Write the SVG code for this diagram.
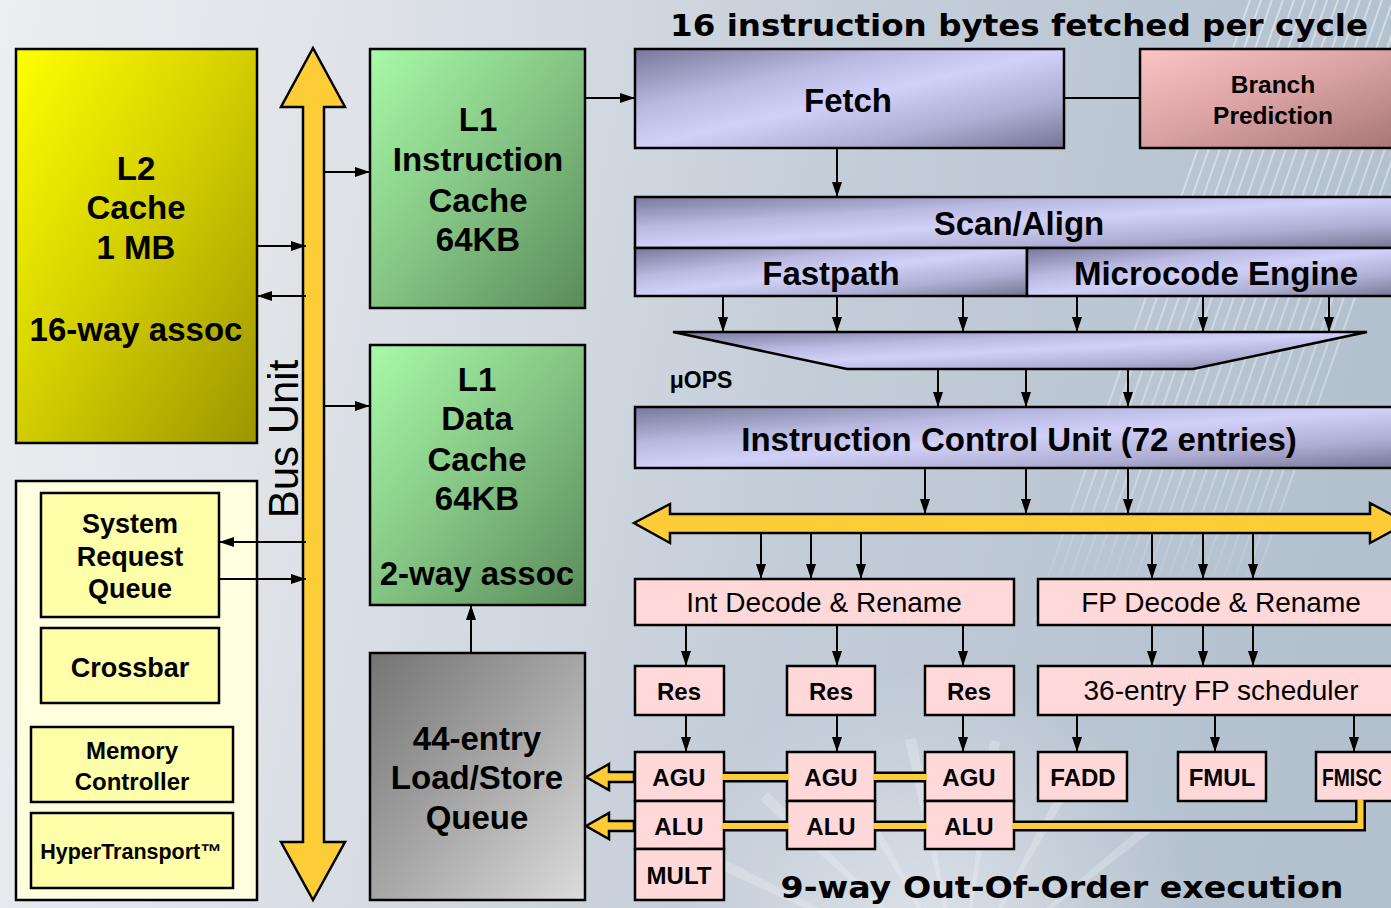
<svg xmlns="http://www.w3.org/2000/svg" width="1391" height="908" viewBox="0 0 1391 908">
  <defs>
    <linearGradient id="bg" x1="0" y1="0" x2="1391" y2="260" gradientUnits="userSpaceOnUse">
      <stop offset="0" stop-color="#eceef1"/>
      <stop offset="0.25" stop-color="#dfe3e8"/>
      <stop offset="0.6" stop-color="#c4ced9"/>
      <stop offset="1" stop-color="#b3c0ce"/>
    </linearGradient>
    <radialGradient id="glow" cx="930" cy="930" r="260" gradientUnits="userSpaceOnUse">
      <stop offset="0" stop-color="#ffffff" stop-opacity="0.45"/>
      <stop offset="1" stop-color="#ffffff" stop-opacity="0"/>
    </radialGradient>
    <linearGradient id="stripeFade" x1="0" y1="0" x2="0" y2="600" gradientUnits="userSpaceOnUse">
      <stop offset="0" stop-color="#ffffff" stop-opacity="0.45"/>
      <stop offset="0.8" stop-color="#ffffff" stop-opacity="0.3"/>
      <stop offset="1" stop-color="#ffffff" stop-opacity="0"/>
    </linearGradient>
    <linearGradient id="gYellow" x1="0" y1="0" x2="1" y2="1">
      <stop offset="0" stop-color="#ffff00"/>
      <stop offset="0.5" stop-color="#d2cd00"/>
      <stop offset="1" stop-color="#9c9600"/>
    </linearGradient>
    <linearGradient id="gGreen" x1="0" y1="0" x2="1" y2="1">
      <stop offset="0" stop-color="#a8faa8"/>
      <stop offset="0.5" stop-color="#84c484"/>
      <stop offset="1" stop-color="#5a8b5a"/>
    </linearGradient>
    <linearGradient id="gGray" x1="0" y1="0" x2="1" y2="1">
      <stop offset="0" stop-color="#747474"/>
      <stop offset="0.5" stop-color="#a6a6a6"/>
      <stop offset="1" stop-color="#dcdcdc"/>
    </linearGradient>
    <linearGradient id="gPink" x1="0" y1="0" x2="1" y2="1">
      <stop offset="0" stop-color="#fcc4c4"/>
      <stop offset="0.5" stop-color="#d8a0a0"/>
      <stop offset="1" stop-color="#a47474"/>
    </linearGradient>
    <linearGradient id="gLav" x1="0" y1="0" x2="1" y2="1">
      <stop offset="0" stop-color="#78789a"/>
      <stop offset="0.3" stop-color="#b8b8e0"/>
      <stop offset="0.5" stop-color="#d0d0f8"/>
      <stop offset="0.75" stop-color="#aeaed4"/>
      <stop offset="1" stop-color="#747494"/>
    </linearGradient>
    <marker id="ah" markerUnits="userSpaceOnUse" markerWidth="15" markerHeight="10" refX="15" refY="5" orient="auto">
      <path d="M0,0 L15,5 L0,10 z" fill="#000"/>
    </marker>
    <style>
      .box { stroke: #000; stroke-width: 2.5; }
      .pink { fill: #ffd9d9; stroke: #000; stroke-width: 2.5; }
      .ylw { fill: #ffffaa; stroke: #000; stroke-width: 2.5; }
      .lav { fill: url(#gLav); stroke: #000; stroke-width: 2.5; }
      .bus { fill: #fdcd38; stroke: #000; stroke-width: 2.5; stroke-linejoin: miter; }
      .wire { fill: none; stroke: #000; stroke-width: 2; }
      .arr { fill: none; stroke: #000; stroke-width: 2; marker-end: url(#ah); }
      .linkO { fill: none; stroke: #000; stroke-width: 11; }
      .linkI { fill: none; stroke: #fdcd38; stroke-width: 6; }
      text { font-family: "Liberation Sans", Arial, sans-serif; font-weight: bold; fill: #000; text-anchor: middle; }
      .big { font-size: 33px; }
      .mid { font-size: 27px; }
      .sm { font-size: 24px; }
      .reg { font-weight: normal; font-size: 28px; }
      .title { font-family: "DejaVu Sans", Verdana, sans-serif; font-size: 30px; }
    </style>
  </defs>

  <!-- backdrop -->
  <rect x="0" y="0" width="1391" height="908" fill="url(#bg)"/>
  <rect x="600" y="660" width="700" height="248" fill="url(#glow)"/>
  <g id="rays" fill="#ffffff" opacity="0.22">
    <path d="M960,980 L700,860 L706,850 Z"/>
    <path d="M960,980 L760,800 L768,792 Z"/>
    <path d="M960,980 L830,760 L840,755 Z"/>
    <path d="M960,980 L905,740 L916,738 Z"/>
    <path d="M960,980 L990,740 L1000,742 Z"/>
    <path d="M960,980 L1070,770 L1079,775 Z"/>
    <path d="M960,980 L1150,820 L1156,828 Z"/>
  </g>
  <g id="stripes" stroke="url(#stripeFade)" stroke-width="2">
    <line x1="1250" y1="0" x2="1040" y2="600"/>
    <line x1="1261" y1="0" x2="1051" y2="600"/>
    <line x1="1272" y1="0" x2="1062" y2="600"/>
    <line x1="1283" y1="0" x2="1073" y2="600"/>
    <line x1="1294" y1="0" x2="1084" y2="600"/>
    <line x1="1305" y1="0" x2="1095" y2="600"/>
    <line x1="1316" y1="0" x2="1106" y2="600"/>
    <line x1="1327" y1="0" x2="1117" y2="600"/>
    <line x1="1338" y1="0" x2="1128" y2="600"/>
    <line x1="1349" y1="0" x2="1139" y2="600"/>
    <line x1="1360" y1="0" x2="1150" y2="600"/>
    <line x1="1371" y1="0" x2="1161" y2="600"/>
    <line x1="1382" y1="0" x2="1172" y2="600"/>
    <line x1="1393" y1="0" x2="1183" y2="600"/>
    <line x1="1404" y1="0" x2="1194" y2="600"/>
    <line x1="1415" y1="0" x2="1205" y2="600"/>
    <line x1="1426" y1="0" x2="1216" y2="600"/>
    <line x1="1437" y1="0" x2="1227" y2="600"/>
    <line x1="1448" y1="0" x2="1238" y2="600"/>
    <line x1="1459" y1="0" x2="1249" y2="600"/>
  </g>

  <!-- captions -->
  <text class="title" x="1019" y="36" textLength="698" lengthAdjust="spacingAndGlyphs">16 instruction bytes fetched per cycle</text>
  <text class="title" x="1062" y="898" style="font-size:31px" textLength="563" lengthAdjust="spacingAndGlyphs">9-way Out-Of-Order execution</text>

  <!-- memory side -->
  <g id="l2cache">
    <rect class="box" x="16" y="49" width="241" height="394" fill="url(#gYellow)"/>
    <text class="big" x="136" y="180">L2</text>
    <text class="big" x="136" y="219">Cache</text>
    <text class="big" x="136" y="259">1 MB</text>
    <text class="big" x="136" y="341">16-way assoc</text>
  </g>

  <g id="bus-unit">
    <polygon class="bus" points="313,48 345,107 324,107 324,842 345,842 313,900 281,842 303,842 303,107 281,107"/>
    <text transform="translate(298,439) rotate(-90)" style="font-weight:normal;font-size:42px">Bus Unit</text>
  </g>

  <g id="northbridge">
    <rect x="16" y="481" width="241" height="419" fill="#ffffe0" stroke="#000" stroke-width="2.5"/>
  </g>
  <g id="sysreq">
    <rect class="ylw" x="41" y="493" width="178" height="124"/>
    <text class="mid" x="130" y="533">System</text>
    <text class="mid" x="130" y="566">Request</text>
    <text class="mid" x="130" y="598">Queue</text>
  </g>
  <g id="crossbar">
    <rect class="ylw" x="41" y="628" width="178" height="75"/>
    <text class="mid" x="130" y="677">Crossbar</text>
  </g>
  <g id="memctrl">
    <rect class="ylw" x="31" y="727" width="202" height="75"/>
    <text class="sm" x="132" y="759">Memory</text>
    <text class="sm" x="132" y="790">Controller</text>
  </g>
  <g id="hypertransport">
    <rect class="ylw" x="31" y="813" width="202" height="75"/>
    <text x="131" y="859" style="font-size:21.5px">HyperTransport™</text>
  </g>

  <g id="l1i">
    <rect class="box" x="370" y="49" width="215" height="259" fill="url(#gGreen)"/>
    <text class="big" x="478" y="131">L1</text>
    <text class="big" x="478" y="171">Instruction</text>
    <text class="big" x="478" y="212">Cache</text>
    <text class="big" x="478" y="251">64KB</text>
  </g>
  <g id="l1d">
    <rect class="box" x="370" y="345" width="215" height="260" fill="url(#gGreen)"/>
    <text class="big" x="477" y="391">L1</text>
    <text class="big" x="477" y="430">Data</text>
    <text class="big" x="477" y="471">Cache</text>
    <text class="big" x="477" y="510">64KB</text>
    <text class="big" x="477" y="585">2-way assoc</text>
  </g>
  <g id="lsq">
    <rect class="box" x="370" y="653" width="215" height="247" fill="url(#gGray)"/>
    <text class="big" x="477" y="750">44-entry</text>
    <text class="big" x="477" y="789">Load/Store</text>
    <text class="big" x="477" y="829">Queue</text>
  </g>

  <!-- front end -->
  <g id="fetch">
    <rect class="lav" x="635" y="49" width="429" height="99"/>
    <text class="big" x="848" y="112">Fetch</text>
  </g>
  <g id="branch">
    <rect class="box" x="1140" y="49" width="270" height="99" fill="url(#gPink)"/>
    <text x="1273" y="93" style="font-size:24.5px">Branch</text>
    <text x="1273" y="124" style="font-size:24.5px">Prediction</text>
  </g>
  <g id="scanalign">
    <rect class="lav" x="635" y="197" width="770" height="51"/>
    <text class="big" x="1019" y="235">Scan/Align</text>
  </g>
  <g id="fastpath">
    <rect class="lav" x="635" y="248" width="392" height="48"/>
    <text class="big" x="831" y="285">Fastpath</text>
  </g>
  <g id="microcode">
    <rect class="lav" x="1027" y="248" width="378" height="48"/>
    <text class="big" x="1216" y="285">Microcode Engine</text>
  </g>
  <g id="uop-funnel">
    <polygon class="lav" points="673,332 1367,332 1193,369 847,369"/>
    <text x="701" y="388" style="font-size:23px">μOPS</text>
  </g>
  <g id="icu">
    <rect class="lav" x="635" y="407" width="770" height="61"/>
    <text class="big" x="1019" y="451">Instruction Control Unit (72 entries)</text>
  </g>
  <g id="dispatch-bus">
    <polygon class="bus" points="634,523 670,504 670,514 1370,514 1370,503 1407,523 1370,543 1370,533 670,533 670,543"/>
  </g>

  <!-- integer side -->
  <g id="int-decode">
    <rect class="pink" x="635" y="579" width="379" height="46"/>
    <text class="reg" x="824" y="612">Int Decode &amp; Rename</text>
  </g>
  <g id="res1"><rect class="pink" x="635" y="666" width="89" height="49"/><text class="sm" x="679" y="700">Res</text></g>
  <g id="res2"><rect class="pink" x="787" y="666" width="88" height="49"/><text class="sm" x="831" y="700">Res</text></g>
  <g id="res3"><rect class="pink" x="925" y="666" width="89" height="49"/><text class="sm" x="969" y="700">Res</text></g>
  <g id="agu1"><rect class="pink" x="635" y="752" width="89" height="49"/><text class="sm" x="679" y="786">AGU</text></g>
  <g id="alu1"><rect class="pink" x="635" y="801" width="89" height="48"/><text class="sm" x="679" y="835">ALU</text></g>
  <g id="mult"><rect class="pink" x="635" y="849" width="89" height="51"/><text class="sm" x="679" y="884">MULT</text></g>
  <g id="agu2"><rect class="pink" x="787" y="752" width="88" height="49"/><text class="sm" x="831" y="786">AGU</text></g>
  <g id="alu2"><rect class="pink" x="787" y="801" width="88" height="48"/><text class="sm" x="831" y="835">ALU</text></g>
  <g id="agu3"><rect class="pink" x="925" y="752" width="89" height="49"/><text class="sm" x="969" y="786">AGU</text></g>
  <g id="alu3"><rect class="pink" x="925" y="801" width="89" height="48"/><text class="sm" x="969" y="835">ALU</text></g>

  <!-- floating point side -->
  <g id="fp-decode">
    <rect class="pink" x="1038" y="579" width="380" height="46"/>
    <text class="reg" x="1221" y="612">FP Decode &amp; Rename</text>
  </g>
  <g id="fp-sched">
    <rect class="pink" x="1038" y="666" width="380" height="49"/>
    <text class="reg" x="1221" y="700">36-entry FP scheduler</text>
  </g>
  <g id="fadd"><rect class="pink" x="1038" y="752" width="89" height="49"/><text class="sm" x="1083" y="786">FADD</text></g>
  <g id="fmul"><rect class="pink" x="1178" y="752" width="88" height="49"/><text class="sm" x="1222" y="786">FMUL</text></g>
  <g id="fmisc"><rect class="pink" x="1316" y="752" width="89" height="49"/><text x="1322" y="786" style="text-anchor:start;font-size:23px" textLength="60" lengthAdjust="spacingAndGlyphs">FMISC</text></g>

  <!-- connectors -->
  <g id="connectors">
    <!-- bus unit links -->
    <line class="arr" x1="257" y1="246" x2="306" y2="246"/>
    <line class="arr" x1="306" y1="296" x2="257" y2="296"/>
    <line class="arr" x1="324" y1="172" x2="370" y2="172"/>
    <line class="arr" x1="324" y1="406" x2="370" y2="406"/>
    <line class="arr" x1="306" y1="542" x2="219" y2="542"/>
    <line class="arr" x1="219" y1="579" x2="306" y2="579"/>
    <line class="arr" x1="471" y1="653" x2="471" y2="605"/>
    <!-- front end -->
    <line class="arr" x1="585" y1="98" x2="635" y2="98"/>
    <line class="wire" x1="1064" y1="98" x2="1140" y2="98"/>
    <line class="arr" x1="837" y1="148" x2="837" y2="197"/>
    <line class="arr" x1="723" y1="296" x2="723" y2="332"/>
    <line class="arr" x1="837" y1="296" x2="837" y2="332"/>
    <line class="arr" x1="963" y1="296" x2="963" y2="332"/>
    <line class="arr" x1="1077" y1="296" x2="1077" y2="332"/>
    <line class="arr" x1="1203" y1="296" x2="1203" y2="332"/>
    <line class="arr" x1="1329" y1="296" x2="1329" y2="332"/>
    <line class="arr" x1="938" y1="369" x2="938" y2="407"/>
    <line class="arr" x1="1026" y1="369" x2="1026" y2="407"/>
    <line class="arr" x1="1128" y1="369" x2="1128" y2="407"/>
    <line class="arr" x1="925" y1="468" x2="925" y2="514"/>
    <line class="arr" x1="1026" y1="468" x2="1026" y2="514"/>
    <line class="arr" x1="1128" y1="468" x2="1128" y2="514"/>
    <!-- dispatch to decoders -->
    <line class="arr" x1="761" y1="533" x2="761" y2="579"/>
    <line class="arr" x1="811" y1="533" x2="811" y2="579"/>
    <line class="arr" x1="861" y1="533" x2="861" y2="579"/>
    <line class="arr" x1="1152" y1="533" x2="1152" y2="579"/>
    <line class="arr" x1="1203" y1="533" x2="1203" y2="579"/>
    <line class="arr" x1="1253" y1="533" x2="1253" y2="579"/>
    <!-- decode to schedulers -->
    <line class="arr" x1="686" y1="626" x2="686" y2="666"/>
    <line class="arr" x1="837" y1="626" x2="837" y2="666"/>
    <line class="arr" x1="963" y1="626" x2="963" y2="666"/>
    <line class="arr" x1="1152" y1="626" x2="1152" y2="666"/>
    <line class="arr" x1="1203" y1="626" x2="1203" y2="666"/>
    <line class="arr" x1="1253" y1="626" x2="1253" y2="666"/>
    <!-- schedulers to units -->
    <line class="arr" x1="686" y1="715" x2="686" y2="752"/>
    <line class="arr" x1="837" y1="715" x2="837" y2="752"/>
    <line class="arr" x1="963" y1="715" x2="963" y2="752"/>
    <line class="arr" x1="1077" y1="715" x2="1077" y2="752"/>
    <line class="arr" x1="1215" y1="715" x2="1215" y2="752"/>
    <line class="arr" x1="1354" y1="715" x2="1354" y2="752"/>
    <!-- result buses -->
    <path class="linkO" d="M724,777 H787 M875,777 H925 M724,826 H787 M875,826 H925"/>
    <path class="linkO" d="M1014,826 H1360.5 V801" stroke-linejoin="miter"/>
    <path class="linkI" d="M722,777 H789 M873,777 H927 M722,826 H789 M873,826 H927"/>
    <path class="linkI" d="M1012,826 H1360.5 V799" stroke-linejoin="miter"/>
    <polygon class="bus" stroke-width="2" points="586,777 609,764 609,772 634,772 634,782 609,782 609,790"/>
    <polygon class="bus" stroke-width="2" points="586,826 609,813 609,821 634,821 634,831 609,831 609,839"/>
  </g>
</svg>
